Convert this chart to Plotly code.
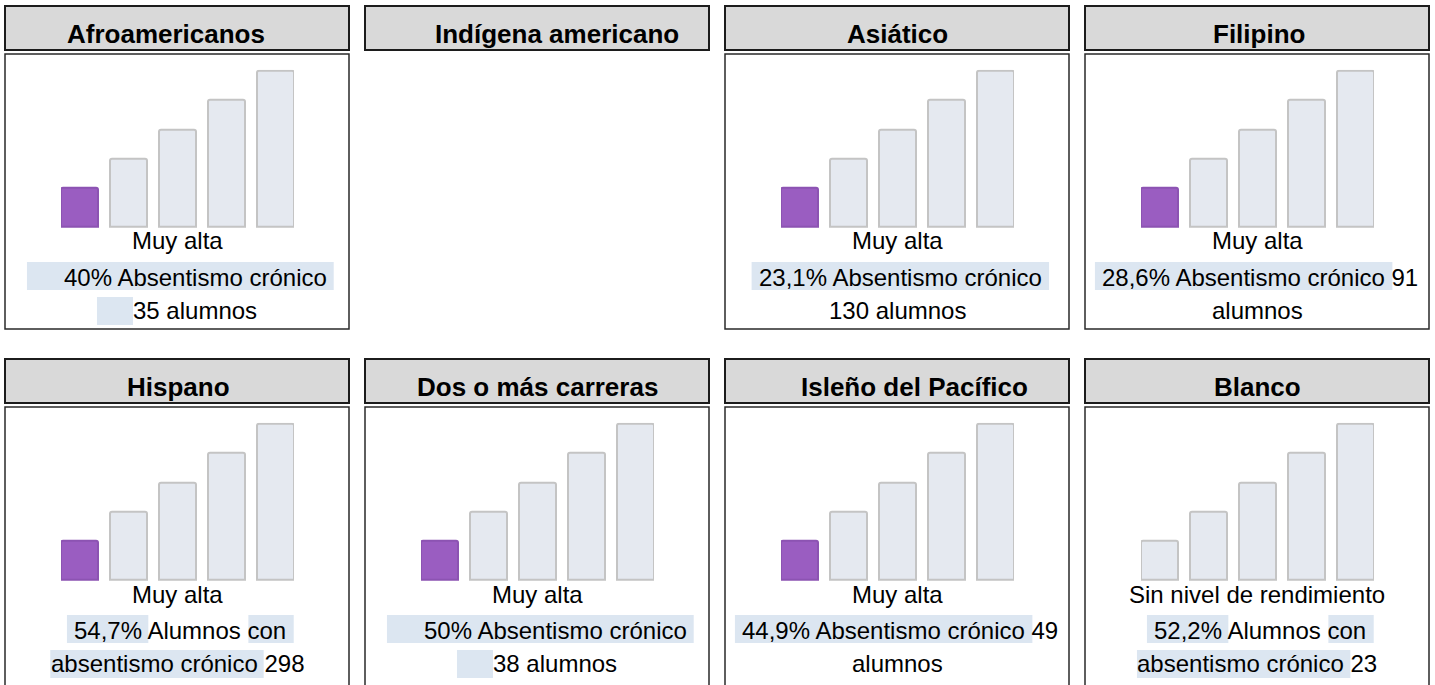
import plotly.graph_objects as go

# ---------------- data ----------------
groups = ["Afroamericanos", "Indígena americano", "Asiático", "Filipino",
          "Hispano", "Dos o más carreras", "Isleño del Pacífico", "Blanco"]
levels = ["Muy alta", "Alta", "Media", "Baja", "Muy baja"]
level_heights = [4, 7, 10, 13, 16]          # step heights of the level icon
status = ["Muy alta", None, "Muy alta", "Muy alta",
          "Muy alta", "Muy alta", "Muy alta", "Sin nivel de rendimiento"]
rates = ["40%", None, "23,1%", "28,6%", "54,7%", "50%", "44,9%", "52,2%"]
students = [35, None, 130, 91, 298, 38, 49, 23]
text_style = ["A", None, "B", "C", "D", "A", "C", "D"]

# text wrapping templates: list of lines, each a list of (text, highlighted)
EN = "\u2002\u2002\u2002"
templates = {
    "A": [[(EN + "{rate} Absentismo crónico ", True)],
          [(EN, True), ("{n} alumnos", False)]],
    "B": [[(" {rate} Absentismo crónico ", True)],
          [("{n} alumnos", False)]],
    "C": [[(" {rate} Absentismo crónico ", True), ("{n}", False)],
          [("alumnos", False)]],
    "D": [[(" {rate} ", True), ("Alumnos ", False), ("con ", True)],
          [("absentismo crónico ", True), ("{n}", False)]],
}

# ---------------- style / layout ----------------
W, H = 1435, 685
FONT = "Liberation Sans, Arial, sans-serif"
PURPLE = "#9a5dc1"
PURPLE_LINE = "#8c53b2"
GRAY = "#e5e9f0"
GRAY_LINE = "#c4c4c4"
HL = "#dce6f1"
HEAD_FILL = "#d9d9d9"

col_left = [5, 365, 725, 1085]
panel_w = 344
row_off = [0, 353]
header_shift = [-11, 20, 0, 2, 1, 0, 17, 0]
BODY = 24
HEAD = 26

# Arial / Liberation Sans advance widths (1/1000 em)
AW = {" ": 278, "\u2002": 500, "%": 889, ",": 278,
      "A": 667, "a": 556, "b": 556, "c": 500, "d": 556, "e": 556, "i": 222,
      "l": 222, "m": 833, "n": 556, "o": 556, "r": 333, "s": 500, "t": 278,
      "u": 556, "y": 500, "ó": 556, "í": 278}
for d in "0123456789":
    AW[d] = 556


def tw(s, size=BODY):
    return sum(AW.get(ch, 556) for ch in s) * size / 1000.0


def px(x):
    return x / W


def py(y):
    return 1 - y / H


fig = go.Figure()
shapes = []
annotations = []
layout_axes = {}

k = 0
for i, g in enumerate(groups):
    c, r = i % 4, i // 4
    L, R = col_left[c], row_off[r]
    cx = L + panel_w / 2

    # header
    shapes.append(dict(type="rect", xref="paper", yref="paper", layer="below",
                       x0=px(L), x1=px(L + panel_w), y0=py(50 + R), y1=py(6 + R),
                       fillcolor=HEAD_FILL, line=dict(color="#1c1c1c", width=2)))
    annotations.append(dict(xref="paper", yref="paper", x=px(cx), y=py(34.3 + R),
                            xanchor="center", yanchor="middle", showarrow=False,
                            xshift=header_shift[i], text="<b>" + g + "</b>",
                            font=dict(family=FONT, size=HEAD, color="#000")))
    if status[i] is None:
        continue

    # panel box
    bottom = 329 if r == 0 else 720
    shapes.append(dict(type="rect", xref="paper", yref="paper", layer="below",
                       x0=px(L), x1=px(L + panel_w), y0=py(bottom), y1=py(54 + R),
                       fillcolor="white", line=dict(color="#2a2a2a", width=1.5)))

    # bars
    k += 1
    xa = "x" if k == 1 else f"x{k}"
    ya = "y" if k == 1 else f"y{k}"
    colors = [PURPLE if lv == status[i] else GRAY for lv in levels]
    lcolors = [PURPLE_LINE if lv == status[i] else GRAY_LINE for lv in levels]
    fig.add_trace(go.Bar(x=list(range(len(levels))), y=level_heights,
                         width=0.743, xaxis=xa, yaxis=ya,
                         marker=dict(color=colors, cornerradius=2,
                                     line=dict(color=lcolors, width=2)),
                         hoverinfo="skip", showlegend=False))
    xkey = "xaxis" if k == 1 else f"xaxis{k}"
    ykey = "yaxis" if k == 1 else f"yaxis{k}"
    layout_axes[xkey] = dict(domain=[px(L + 56), px(L + 289)], range=[-0.372, 4.372],
                             visible=False, fixedrange=True, anchor=ya)
    layout_axes[ykey] = dict(domain=[py(228 + R), py(69.7 + R)], range=[-0.1, 16.1],
                             visible=False, fixedrange=True, anchor=xa)

    # status line
    annotations.append(dict(xref="paper", yref="paper", x=px(cx), y=py(241 + R),
                            xanchor="center", yanchor="middle", showarrow=False,
                            text=status[i], font=dict(family=FONT, size=BODY, color="#000")))

    # description lines with highlighted spans
    line_hl = [(262, 290), (297, 325)]
    line_cy = [277.7, 310]
    for li, segs in enumerate(templates[text_style[i]]):
        segs = [(s.format(rate=rates[i], n=students[i]), h) for s, h in segs]
        full = "".join(s for s, _ in segs)
        wc = tw(full.rstrip(" "))
        left = cx - wc / 2
        x = left
        for s, h in segs:
            w = tw(s)
            if h:
                shapes.append(dict(type="rect", xref="paper", yref="paper", layer="below",
                                   x0=px(x), x1=px(x + w),
                                   y0=py(line_hl[li][1] + R), y1=py(line_hl[li][0] + R),
                                   fillcolor=HL, line=dict(width=0)))
            x += w
        visible = full.strip(" \u2002")
        lead = full[: len(full) - len(full.lstrip(" \u2002"))]
        tl = left + tw(lead)
        tcx = tl + tw(visible) / 2
        annotations.append(dict(xref="paper", yref="paper", x=px(tcx), y=py(line_cy[li] + R),
                                xanchor="center", yanchor="middle", showarrow=False,
                                text=visible, font=dict(family=FONT, size=BODY, color="#000")))

fig.update_layout(width=W, height=H, autosize=False,
                  margin=dict(l=0, r=0, t=0, b=0, pad=0),
                  paper_bgcolor="white", plot_bgcolor="rgba(0,0,0,0)",
                  shapes=shapes, annotations=annotations, showlegend=False,
                  bargap=0, **layout_axes)

fig.write_html("out.html", config={"displayModeBar": False},
               post_script="document.body.style.margin='0';document.body.style.overflow='hidden';")
